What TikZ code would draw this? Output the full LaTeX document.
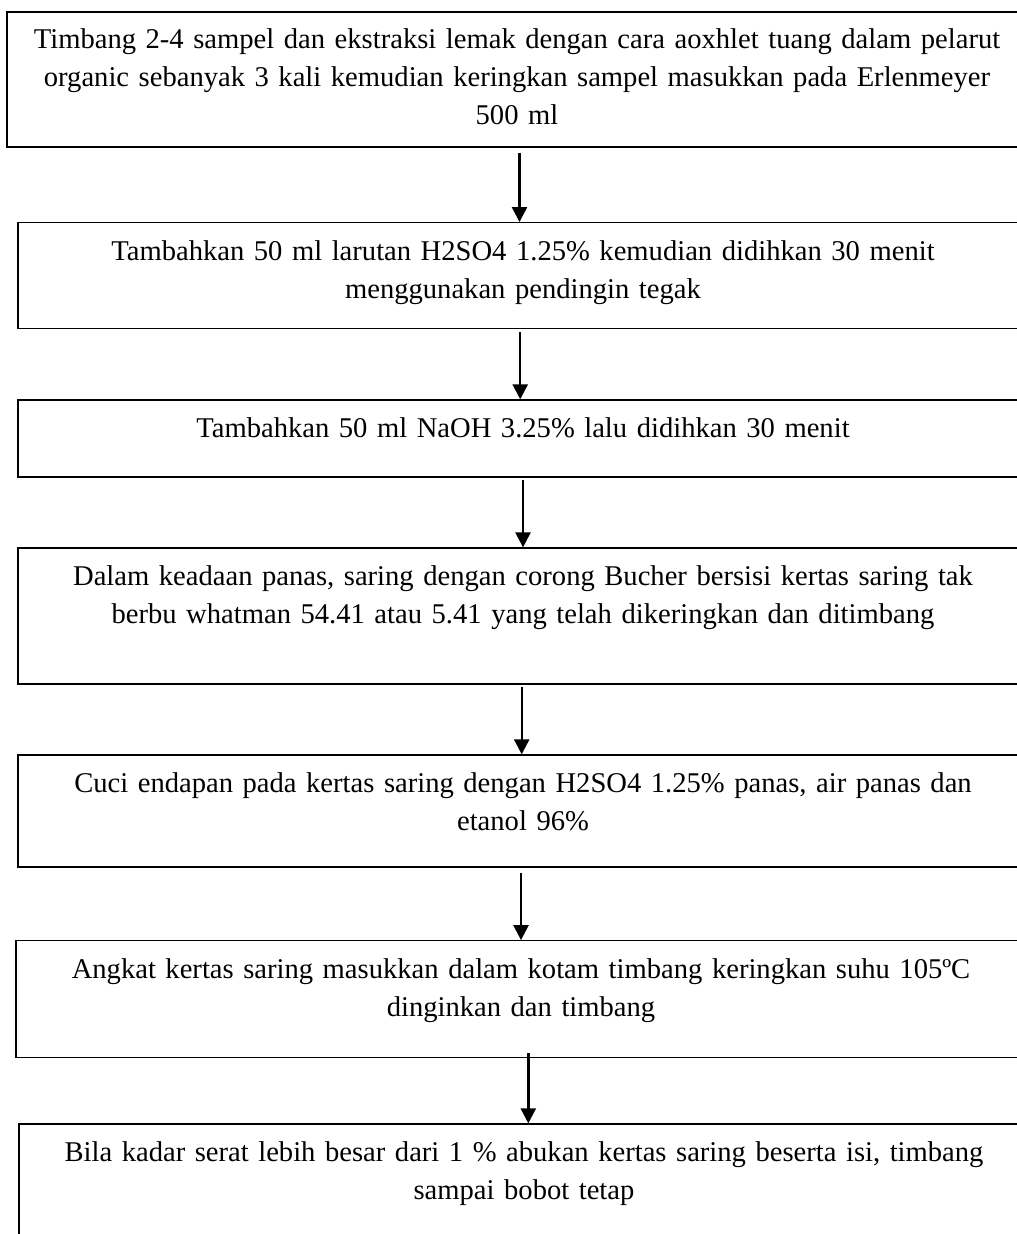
\documentclass[tikz,border=0pt]{standalone}
\usepackage{fontspec}
\setmainfont{Liberation Serif}
\usetikzlibrary{positioning, arrows.meta}

\begin{document}
\begin{tikzpicture}[x=0.5pt,y=-0.5pt,
    every node/.style={font=\fontsize{14.3}{19}\selectfont},
    stepbox/.style={draw, line width=0.65pt, inner sep=0pt, minimum width=505pt},
    steptext/.style={text width=520pt, align=center, inner sep=0pt},
    flow/.style={line width=1.2pt, -{Triangle[length=7.5pt,width=7.5pt]}}]

    \useasboundingbox (0,0) rectangle (1016,1234);

    % ======================
    % Boxes (right side runs off the page)
    % ======================
    \node[stepbox, minimum width=510pt, minimum height=67.5pt] (s1) at (517,79.5) {};
    \node[stepbox, minimum height=53pt] (s2) at (523,275.7) {};
    \node[stepbox, minimum height=38.5pt] (s3) at (523,438.5) {};
    \node[stepbox, minimum height=68pt] (s4) at (523,616) {};
    \node[stepbox, minimum height=56pt] (s5) at (523,811) {};
    \node[stepbox, minimum height=58.25pt] (s6) at (521,999) {};
    \node[stepbox, minimum height=70pt] (s7) at (524,1194) {};

    % ======================
    % Texts (top of each box)
    % ======================
    \node[steptext, below=8.5pt of s1.north] (t1) {Timbang 2-4 sampel dan ekstraksi lemak dengan cara aoxhlet tuang dalam pelarut\\ organic sebanyak 3 kali kemudian keringkan sampel masukkan pada Erlenmeyer\\ 500 ml};
    \node[steptext, below=9pt of s2.north] (t2) {Tambahkan 50 ml larutan H2SO4 1.25\% kemudian didihkan 30 menit\\ menggunakan pendingin tegak};
    \node[steptext, below=9pt of s3.north] (t3) {Tambahkan 50 ml NaOH 3.25\% lalu didihkan 30 menit};
    \node[steptext, below=9pt of s4.north] (t4) {Dalam keadaan panas, saring dengan corong Bucher bersisi kertas saring tak\\ berbu whatman 54.41 atau 5.41 yang telah dikeringkan dan ditimbang};
    \node[steptext, below=9pt of s5.north] (t5) {Cuci endapan pada kertas saring dengan H2SO4 1.25\% panas, air panas dan\\ etanol 96\%};
    \node[steptext, below=9pt of s6.north] (t6) {Angkat kertas saring masukkan dalam kotam timbang keringkan suhu 105ºC\\ dinginkan dan timbang};
    \node[steptext, below=9pt of s7.north] (t7) {Bila kadar serat lebih besar dari 1 \% abukan kertas saring beserta isi, timbang\\ sampai bobot tetap};

    % ======================
    % Arrows
    % ======================
    \draw[flow] ([xshift=1.25pt,yshift=-2.5pt]s1.south) -- ([xshift=1.25pt]s1.south |- s2.north);
    \draw[flow] ([xshift=-1.4pt,yshift=-1.5pt]s2.south) -- ([xshift=-1.4pt]s2.south |- s3.north);
    \draw[flow] ([yshift=-1pt]s3.south) -- (s3.south |- s4.north);
    \draw[flow] ([xshift=-0.65pt,yshift=-1pt]s4.south) -- ([xshift=-0.65pt]s4.south |- s5.north);
    \draw[flow] ([xshift=-1pt,yshift=-2.5pt]s5.south) -- ([xshift=-1pt]s5.south |- s6.north);
    \draw[flow] ([xshift=3.65pt,yshift=2.3pt]s6.south) -- ([xshift=3.65pt]s6.south |- s7.north);

\end{tikzpicture}
\end{document}
